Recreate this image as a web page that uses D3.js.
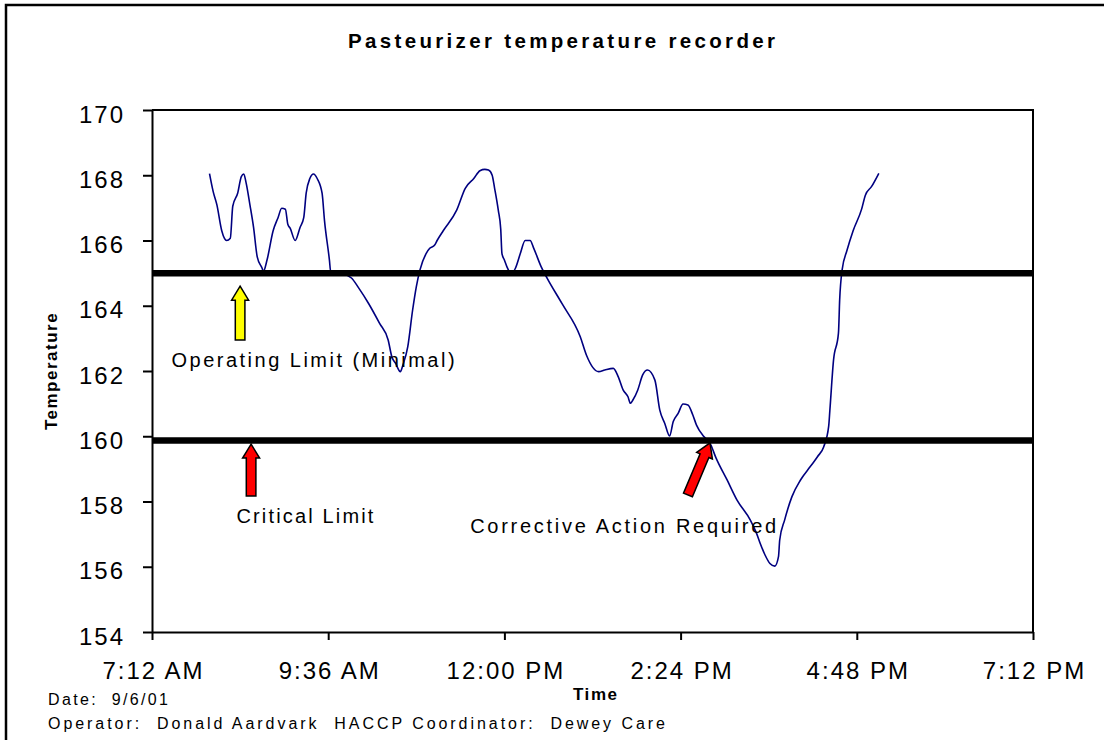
<!DOCTYPE html>
<html><head><meta charset="utf-8">
<script src="https://cdn.jsdelivr.net/npm/d3@7"></script>
<style>
body{margin:0;background:#fff;}
svg text{font-family:"Liberation Sans",Arial,Helvetica,sans-serif;fill:#000;}
</style>
</head><body>
<svg id="chart" width="1104" height="740"></svg>
<script>
// ---------- DATA ----------
const times = ["7:59","8:02","8:05","8:09","8:13","8:16","8:18","8:22","8:25","8:27","8:29","8:32","8:35","8:38","8:42","8:43","8:46","8:51","8:55","8:58",
"9:01","9:03","9:05","9:09","9:13","9:16","9:18","9:21","9:24","9:27","9:31","9:33","9:37","9:38","9:46","9:55",
"10:01","10:09","10:18","10:25","10:28","10:31","10:35","10:37","10:41","10:45","10:48","10:51","10:56","10:59",
"11:03","11:05","11:10","11:21","11:28","11:35","11:40","11:44","11:47","11:50","11:52","11:55","11:57","11:58",
"12:00","12:02","12:04","12:06","12:09","12:13","12:17","12:21","12:24","12:30","12:35","12:47",
"13:02","13:07","13:17","13:22","13:29","13:33","13:37","13:41","13:43","13:45","13:49","13:53","13:57",
"14:03","14:07","14:11","14:15","14:18","14:22","14:26","14:30","14:34","14:37","14:43","14:48","14:53",
"15:02","15:10","15:21","15:26","15:29","15:33","15:37","15:41","15:44","15:45","15:49","15:55",
"16:02","16:10","16:16","16:21","16:25","16:26","16:29","16:33","16:34","16:36","16:40","16:45","16:52","16:55",
"17:00","17:06"];
const temps = [168.05,167.5,167.1,166.3,166.0,166.07,167.05,167.45,167.96,168.04,167.75,167.1,166.4,165.5,165.15,165.05,165.4,166.3,166.7,166.99,
166.96,166.5,166.37,166.0,166.4,166.7,167.45,167.9,168.04,167.9,167.45,166.6,165.4,165.05,165.0,164.85,
164.54,164.07,163.46,162.95,162.44,162.24,161.98,162.18,162.74,163.87,164.58,165.1,165.6,165.76,
165.86,166.0,166.3,166.93,167.6,167.9,168.14,168.18,168.16,168.0,167.6,166.93,166.35,165.6,
165.4,165.2,165.05,165.0,165.15,165.6,166.0,166.0,165.76,165.2,164.84,164.07,
163.05,162.49,161.98,162.03,162.08,161.83,161.42,161.21,161.01,161.11,161.42,161.88,162.03,
161.72,160.8,160.4,160.01,160.45,160.7,160.99,160.96,160.65,160.34,159.99,159.79,159.33,
158.66,158.05,157.43,157.03,156.72,156.36,156.1,156.02,156.31,156.82,157.43,158.15,
158.66,159.07,159.38,159.68,160.3,160.8,162.34,163.16,164.18,165.1,165.7,166.3,166.97,167.39,
167.65,168.06];

const xDomain = ["7:12","19:12"];
const xTickTimes = ["7:12","9:36","12:00","14:24","16:48","19:12"];
const xTickLabels = ["7:12 AM","9:36 AM","12:00 PM","2:24 PM","4:48 PM","7:12 PM"];
const yDomain = [154,170];
const yTicks = [154,156,158,160,162,164,166,168,170];

const limitValues = [165, 159.87];

// annotation arrows: tip and tail in data space (time, temperature)
const arrowTipTimes  = ["8:24","8:33","14:48"];
const arrowTipTemps  = [164.6,159.76,159.8];
const arrowTailTimes = ["8:24","8:33","14:30"];
const arrowTailTemps = [162.95,158.17,158.2];
const arrowColors    = ["#ffff00","#ff0000","#ff0000"];

const noteTexts = ["Operating Limit (Minimal)","Critical Limit","Corrective Action Required"];
const noteTimes = ["7:28","8:21","11:32"];
const noteTemps = [162.12,157.33,157.03];
const noteWidths = [283,137,306];

const titleText = "Pasteurizer temperature recorder";
const xTitle = "Time";
const yTitle = "Temperature";
const footer1 = "Date:  9/6/01";
const footer2 = "Operator:  Donald Aardvark  HACCP Coordinator:  Dewey Care";

// ---------- DRAW ----------
const parse = d3.timeParse("%H:%M");
const svg = d3.select("#chart");

const x = d3.scaleTime().domain(xDomain.map(parse)).range([152,1033]);
const y = d3.scaleLinear().domain(yDomain).range([632,110]);

// outer border
svg.append("rect").attr("x",6).attr("y",5).attr("width",1120).attr("height",760)
  .attr("fill","none").attr("stroke","#000").attr("stroke-width",2.5);

// plot frame (top & right)
svg.append("path")
  .attr("d", `M${x.range()[0]},${y(yDomain[1])}H${x.range()[1]}V${y(yDomain[0])}`)
  .attr("fill","none").attr("stroke","#000").attr("stroke-width",2);

// y axis
const yAxis = svg.append("g").attr("transform",`translate(${x.range()[0]},0)`)
  .call(d3.axisLeft(y).tickValues(yTicks).tickSize(9).tickSizeOuter(0).tickPadding(18).tickFormat(d3.format("d")));
yAxis.select(".domain").attr("stroke-width",2);
yAxis.selectAll(".tick line").attr("stroke-width",2);
yAxis.selectAll(".tick text").attr("font-size",24).attr("dy","0.5em")
  .style("letter-spacing","2px").attr("font-family",null);

// x axis
const xAxis = svg.append("g").attr("transform",`translate(0,${y(yDomain[0])})`)
  .call(d3.axisBottom(x).tickValues(xTickTimes.map(parse)).tickSize(8).tickSizeOuter(0).tickPadding(22)
        .tickFormat((d,i)=>xTickLabels[i]));
xAxis.select(".domain").attr("stroke-width",2);
xAxis.selectAll(".tick line").attr("stroke-width",2);
xAxis.selectAll(".tick text").attr("font-size",24).attr("dx","1px")
  .style("letter-spacing","2px").attr("font-family",null);
svg.selectAll(".tick text").attr("fill","#000");

// data line
const data = times.map((t,i)=>({t:parse(t), v:temps[i]}));
svg.append("path").datum(data)
  .attr("d", d3.line().x(d=>x(d.t)).y(d=>y(d.v)).curve(d3.curveMonotoneX))
  .attr("fill","none").attr("stroke","#000080").attr("stroke-width",1.6).attr("stroke-linejoin","round");

// limit lines
svg.selectAll("line.limit").data(limitValues).enter().append("line").attr("class","limit")
  .attr("x1",x.range()[0]).attr("x2",x.range()[1])
  .attr("y1",d=>y(d)).attr("y2",d=>y(d))
  .attr("stroke","#000").attr("stroke-width",6.5);

// arrows
function arrowPath(tx,ty,bx,by){
  const dx=tx-bx, dy=ty-by, L=Math.hypot(dx,dy);
  const ux=dx/L, uy=dy/L, nx=-uy, ny=ux;
  const hl=14, hh=8.5, sh=4.8;
  const hx=tx-ux*hl, hy=ty-uy*hl;
  const p=[[tx,ty],[hx+nx*hh,hy+ny*hh],[hx+nx*sh,hy+ny*sh],[bx+nx*sh,by+ny*sh],
           [bx-nx*sh,by-ny*sh],[hx-nx*sh,hy-ny*sh],[hx-nx*hh,hy-ny*hh]];
  return "M"+p.map(q=>q[0].toFixed(1)+","+q[1].toFixed(1)).join("L")+"Z";
}
arrowTipTimes.forEach((t,i)=>{
  svg.append("path")
    .attr("d", arrowPath(x(parse(t)), y(arrowTipTemps[i]), x(parse(arrowTailTimes[i])), y(arrowTailTemps[i])))
    .attr("fill",arrowColors[i]).attr("stroke","#000").attr("stroke-width",1.5).attr("stroke-linejoin","miter");
});

// notes
noteTexts.forEach((s,i)=>{
  svg.append("text").attr("x",x(parse(noteTimes[i]))).attr("y",y(noteTemps[i]))
    .attr("font-size",20).attr("textLength",noteWidths[i]).attr("lengthAdjust","spacing")
    .attr("fill","#111").text(s);
});

// title
svg.append("text").attr("x",348).attr("y",48).attr("font-size",20.5).attr("font-weight","bold")
  .attr("textLength",427).attr("lengthAdjust","spacing").text(titleText);

// axis titles
svg.append("text").attr("x",573).attr("y",700).attr("font-size",17).attr("font-weight","bold")
  .attr("textLength",44).attr("lengthAdjust","spacing").text(xTitle);
svg.append("text").attr("transform",`translate(57,${(y(yDomain[0])+y(yDomain[1]))/2}) rotate(-90)`)
  .attr("text-anchor","middle").attr("font-size",17).attr("font-weight","bold")
  .style("letter-spacing","1.5px").text(yTitle);

// footer
svg.append("text").attr("x",48).attr("y",705).attr("font-size",16).attr("xml:space","preserve")
  .style("white-space","pre").attr("textLength",120).attr("lengthAdjust","spacing").text(footer1);
svg.append("text").attr("x",48).attr("y",729).attr("font-size",16).attr("xml:space","preserve")
  .style("white-space","pre").attr("textLength",617).attr("lengthAdjust","spacing").text(footer2);
</script>
</body></html>
